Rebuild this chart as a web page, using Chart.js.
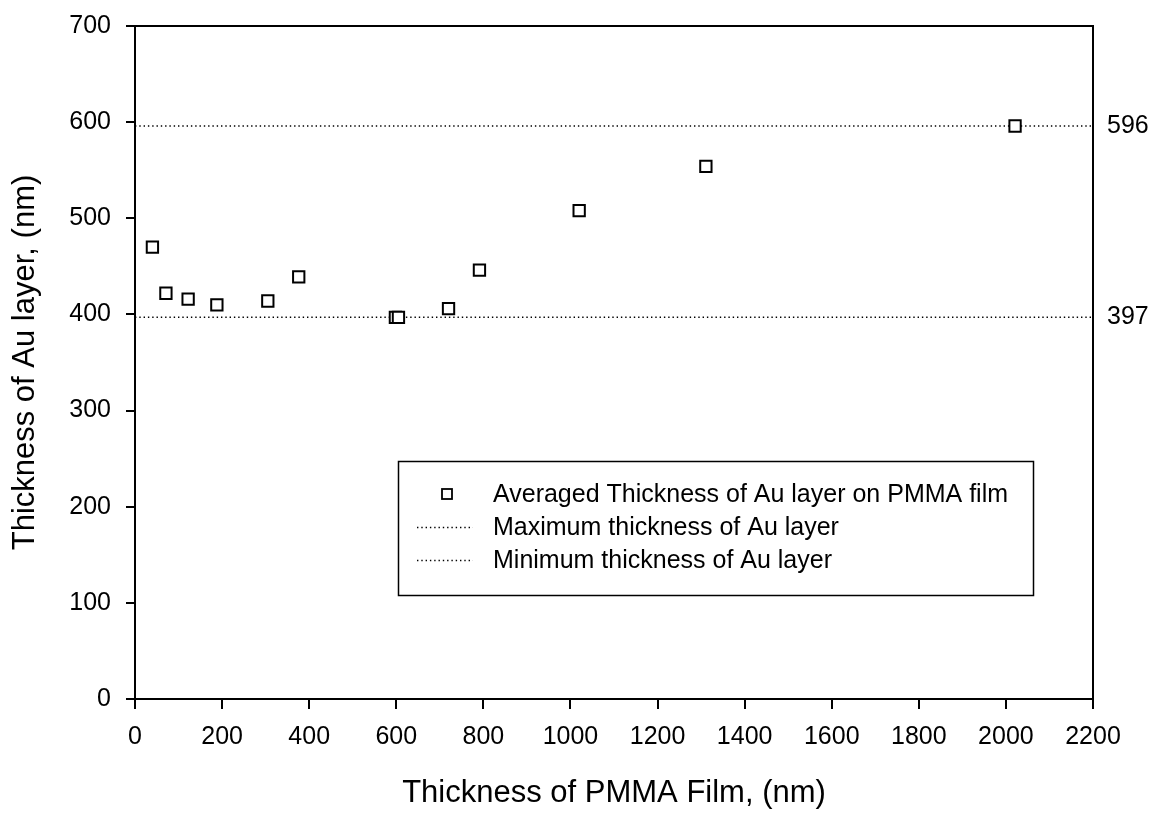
<!DOCTYPE html>
<html>
<head>
<meta charset="utf-8">
<script src="https://cdn.jsdelivr.net/npm/chart.js@4.4.0/dist/chart.umd.min.js"></script>
<style>
  html, body { margin: 0; padding: 0; background: #ffffff; }
  #wrap { width: 1157px; height: 814px; position: relative; }
</style>
</head>
<body>
<div id="wrap"><canvas id="c" width="1157" height="814"></canvas></div>
<script>
// ---- data ----
const pmmaThickness = [40, 71, 122, 188, 305, 376, 598, 605, 720, 791, 1020, 1311, 2021];
const auThickness   = [470, 422, 416, 410, 414, 439, 397, 397, 406, 446, 508, 554, 596];
const maxThickness = 596;
const minThickness = 397;
const xRange = [0, 2200];
const yRange = [0, 700];
const seriesLabels = [
  'Averaged Thickness of Au layer on PMMA film',
  'Maximum thickness of Au layer',
  'Minimum thickness of Au layer'
];
const xTitle = 'Thickness of PMMA Film, (nm)';
const yTitle = 'Thickness of Au layer, (nm)';

const FONT = '"Liberation Sans", Arial, sans-serif';

const scatterData = pmmaThickness.map((x, i) => ({ x: x, y: auThickness[i] }));
const maxLine = xRange.map(x => ({ x: x, y: maxThickness }));
const minLine = xRange.map(x => ({ x: x, y: minThickness }));

const DASH = [1.4, 2.9];

const legendPlugin = {
  id: 'boxLegend',
  afterDraw(chart) {
    const ctx = chart.ctx;
    const box = { x: 398.5, y: 461.5, w: 635, h: 134 };
    ctx.save();
    ctx.fillStyle = '#ffffff';
    ctx.fillRect(box.x, box.y, box.w, box.h);
    ctx.strokeStyle = '#000';
    ctx.lineWidth = 1.5;
    ctx.strokeRect(box.x, box.y, box.w, box.h);
    const rows = [494, 527, 560];
    ctx.font = '25px ' + FONT;
    ctx.textBaseline = 'middle';
    ctx.fillStyle = '#000';
    // marker
    ctx.lineWidth = 1.8;
    ctx.strokeRect(442, rows[0] - 5, 10, 10);
    // dotted samples
    ctx.setLineDash(DASH);
    ctx.lineWidth = 1.4;
    [rows[1], rows[2]].forEach(y => {
      ctx.beginPath();
      ctx.moveTo(417, y + 0.5);
      ctx.lineTo(473, y + 0.5);
      ctx.stroke();
    });
    ctx.setLineDash([]);
    seriesLabels.forEach((t, i) => ctx.fillText(t, 493, rows[i] + 1));
    ctx.restore();
  }
};

const plain = v => String(v);
const noVPad = s => { s.paddingTop = 0; s.paddingBottom = 0; };

new Chart(document.getElementById('c'), {
  type: 'scatter',
  data: {
    datasets: [
      {
        label: seriesLabels[0],
        data: scatterData,
        pointStyle: 'rect',
        pointRadius: 8,
        pointHoverRadius: 8,
        borderColor: '#000',
        backgroundColor: '#ffffff',
        pointBorderWidth: 2,
        order: 0
      },
      {
        label: seriesLabels[1],
        type: 'line',
        data: maxLine,
        borderColor: '#000',
        borderWidth: 1.4,
        borderDash: DASH,
        pointRadius: 0,
        fill: false,
        order: 1
      },
      {
        label: seriesLabels[2],
        type: 'line',
        data: minLine,
        borderColor: '#000',
        borderWidth: 1.4,
        borderDash: DASH,
        pointRadius: 0,
        fill: false,
        order: 1
      }
    ]
  },
  options: {
    responsive: false,
    animation: false,
    devicePixelRatio: 1,
    layout: { padding: { top: 26, left: 0, right: 0, bottom: 0 } },
    plugins: {
      legend: { display: false },
      tooltip: { enabled: false }
    },
    scales: {
      x: {
        type: 'linear',
        position: 'bottom',
        min: xRange[0],
        max: xRange[1],
        afterFit(s) { s.height = 115; s.paddingLeft = 0; s.paddingRight = 0; },
        ticks: {
          stepSize: 200,
          color: '#000',
          font: { family: FONT, size: 25 },
          padding: 13,
          maxRotation: 0,
          callback: plain
        },
        grid: { drawOnChartArea: false, tickLength: 10, lineWidth: 2, color: '#000' },
        border: { display: true, color: '#000', width: 2 },
        title: {
          display: true,
          text: xTitle,
          color: '#000',
          font: { family: FONT, size: 31 },
          padding: { top: 0, bottom: 2 }
        }
      },
      xTop: {
        type: 'linear',
        position: 'top',
        min: xRange[0],
        max: xRange[1],
        afterFit(s) { s.height = 0; s.paddingLeft = 0; s.paddingRight = 0; },
        ticks: { display: false },
        grid: { display: false, drawOnChartArea: false, drawTicks: false },
        border: { display: true, color: '#000', width: 2 }
      },
      y: {
        type: 'linear',
        position: 'left',
        min: yRange[0],
        max: yRange[1],
        afterFit(s) { s.width = 135; noVPad(s); },
        ticks: {
          stepSize: 100,
          color: '#000',
          font: { family: FONT, size: 25 },
          padding: 15,
          callback: plain
        },
        grid: { drawOnChartArea: false, tickLength: 9, lineWidth: 2, color: '#000' },
        border: { display: true, color: '#000', width: 2 },
        title: {
          display: true,
          text: yTitle,
          color: '#000',
          font: { family: FONT, size: 31 },
          padding: { top: 7, bottom: 0 }
        }
      },
      yRight: {
        type: 'linear',
        position: 'right',
        min: yRange[0],
        max: yRange[1],
        afterFit(s) { s.width = 64; noVPad(s); },
        afterBuildTicks(s) { s.ticks = [{ value: minThickness }, { value: maxThickness }]; },
        ticks: {
          color: '#000',
          font: { family: FONT, size: 25 },
          padding: 14,
          callback: plain
        },
        grid: { display: true, drawOnChartArea: false, drawTicks: false, tickLength: 0, color: '#000' },
        border: { display: true, color: '#000', width: 2 }
      }
    }
  },
  plugins: [legendPlugin]
});
</script>
</body>
</html>
